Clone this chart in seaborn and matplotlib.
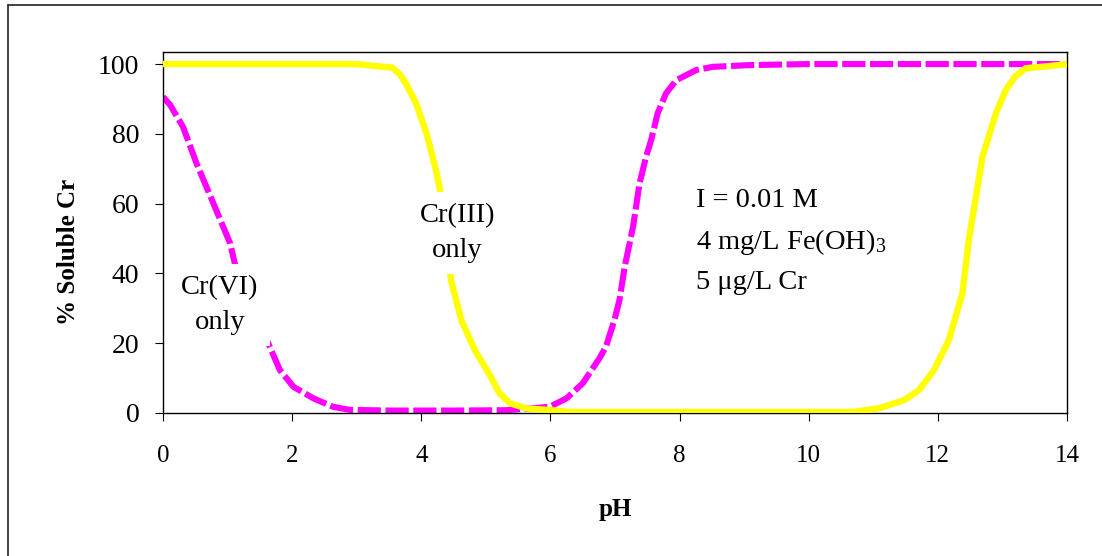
import matplotlib
matplotlib.use("Agg")
import matplotlib.pyplot as plt
import seaborn as sns
from matplotlib.lines import Line2D

# ---- data ----
ph_cr3 = [0, 1, 2, 3.0, 3.3, 3.55, 3.67, 3.76, 3.92, 4.08, 4.23, 4.29, 4.46, 4.62, 4.83, 5.06,
          5.21, 5.37, 5.63, 5.99, 6.3, 8, 10, 10.7, 11.1, 11.48, 11.71, 11.94, 12.17,
          12.38, 12.48, 12.59, 12.69, 12.9, 13.05, 13.2, 13.36, 13.72, 14]
sol_cr3 = [100, 100, 100, 100, 99.4, 99.0, 97.0, 94.5, 88.7, 80.2, 69.4, 63.9, 38.1, 26.6, 18, 10.9,
           5.7, 2.8, 1.3, 0.86, 0.3, 0.3, 0.3, 0.3, 1.4, 3.7, 6.6, 12.3, 20.9,
           34.3, 49.6, 62, 73.4, 85.9, 92.5, 96.5, 98.8, 99.4, 100]

ph_cr6 = [0, 0.11, 0.31, 0.52, 0.78, 1.04, 1.11, 1.3, 1.63, 1.81, 2.02, 2.33, 2.63, 2.89,
          3.5, 4.5, 5.3, 5.7, 5.99, 6.25, 6.5, 6.76, 6.86, 6.99, 7.07, 7.15, 7.28, 7.38,
          7.48, 7.56, 7.66, 7.79, 7.95, 8.26, 8.51, 9.08, 10, 12, 14]
sol_cr6 = [90.6, 88.3, 82, 71.5, 60.1, 48.6, 43, 33, 20, 12.3, 7.5, 4.2, 1.8, 0.9,
           0.7, 0.7, 0.8, 1.3, 1.8, 4.2, 8.5, 15.7, 19, 26.6, 32.4, 41.9, 53.4, 65.8,
           73.4, 78.2, 85.9, 91.6, 95.4, 98.3, 99.2, 99.7, 100, 100, 100]

x_ticks = [0, 2, 4, 6, 8, 10, 12, 14]
y_ticks = [0, 20, 40, 60, 80, 100]
label_cr3 = "Cr(III)\nonly"
label_cr6 = "Cr(VI)\nonly"
conditions = "I = 0.01 M\n4 mg/L Fe(OH)$_3$\n5 \u03bcg/L Cr"
x_label = "pH"
y_label = "% Soluble Cr"

# ---- styling ----
sns.set_style("ticks")
plt.rcParams["font.family"] = ["Liberation Serif", "DejaVu Serif"]
plt.rcParams["mathtext.fontset"] = "custom"
plt.rcParams["mathtext.rm"] = "Liberation Serif"
plt.rcParams["mathtext.it"] = "Liberation Serif:italic"
plt.rcParams["mathtext.bf"] = "Liberation Serif:bold"
plt.rcParams["text.color"] = "black"
plt.rcParams["axes.labelcolor"] = "black"
plt.rcParams["xtick.color"] = "black"
plt.rcParams["ytick.color"] = "black"

W, H = 1102, 556
fig = plt.figure(figsize=(W / 100, H / 100), dpi=100, facecolor="white")
ax = fig.add_axes([163 / W, (H - 413) / H, 904 / W, 361.5 / H])

sns.lineplot(x=ph_cr6, y=sol_cr6, ax=ax, color="#FF00FF", linewidth=4.4,
             sort=False, estimator=None, linestyle=(0, (3.8, 0.75)), zorder=2)
sns.lineplot(x=ph_cr3, y=sol_cr3, ax=ax, color="#FFFF00", linewidth=4.6,
             sort=False, estimator=None, zorder=3, solid_capstyle="butt")

ax.set_xlim(0, 14)
ax.set_ylim(0, 103.6)
ax.set_xticks(x_ticks)
ax.set_yticks(y_ticks)
ax.set_xticklabels([str(t) for t in x_ticks], fontsize=18, color="black")
ax.set_yticklabels([str(t) for t in y_ticks], fontsize=20, color="black")
ax.tick_params(axis="x", direction="out", length=6, width=0.8, pad=17,
               bottom=True, top=False, colors="black")
ax.tick_params(axis="y", direction="out", length=6, width=0.8, pad=11,
               left=True, right=False, colors="black")
for s in ax.spines.values():
    s.set_visible(True)
    s.set_color("black")
    s.set_linewidth(1.0)

ax.set_xlabel(x_label, fontsize=18, fontweight="bold", color="black")
ax.set_ylabel(y_label, fontsize=18, fontweight="bold", color="black")
ax.xaxis.set_label_coords(0.5, (413 - 498) / 361.5)
ax.yaxis.set_label_coords((80 - 163) / 904, (413 - 251.5) / 361.5)
ax.xaxis.label.set_va("top")
ax.yaxis.label.set_va("bottom")

box = dict(boxstyle="square,pad=0.4", facecolor="white", edgecolor="none")
ax.text(4.56, 51.6, label_cr3, ha="center", va="center", fontsize=20.5,
        linespacing=1.5, bbox=box, zorder=5, color="black")
ax.text(0.88, 30.9, label_cr6, ha="center", va="center", fontsize=20.5,
        linespacing=1.5, bbox=box, zorder=5, color="black")
ax.text(8.26, 64.6, conditions, ha="left", va="top", fontsize=20.5,
        linespacing=1.66, zorder=5, color="black")

# outer chart-area border (left and top edges visible in reference)
fig.add_artist(Line2D([8 / W, 8 / W], [0, 1 - 5 / H], color="#222222", lw=1.2,
                      transform=fig.transFigure))
fig.add_artist(Line2D([8 / W, 1], [1 - 5 / H, 1 - 5 / H], color="#222222", lw=1.2,
                      transform=fig.transFigure))

fig.savefig("out.png", dpi=100, facecolor="white")
